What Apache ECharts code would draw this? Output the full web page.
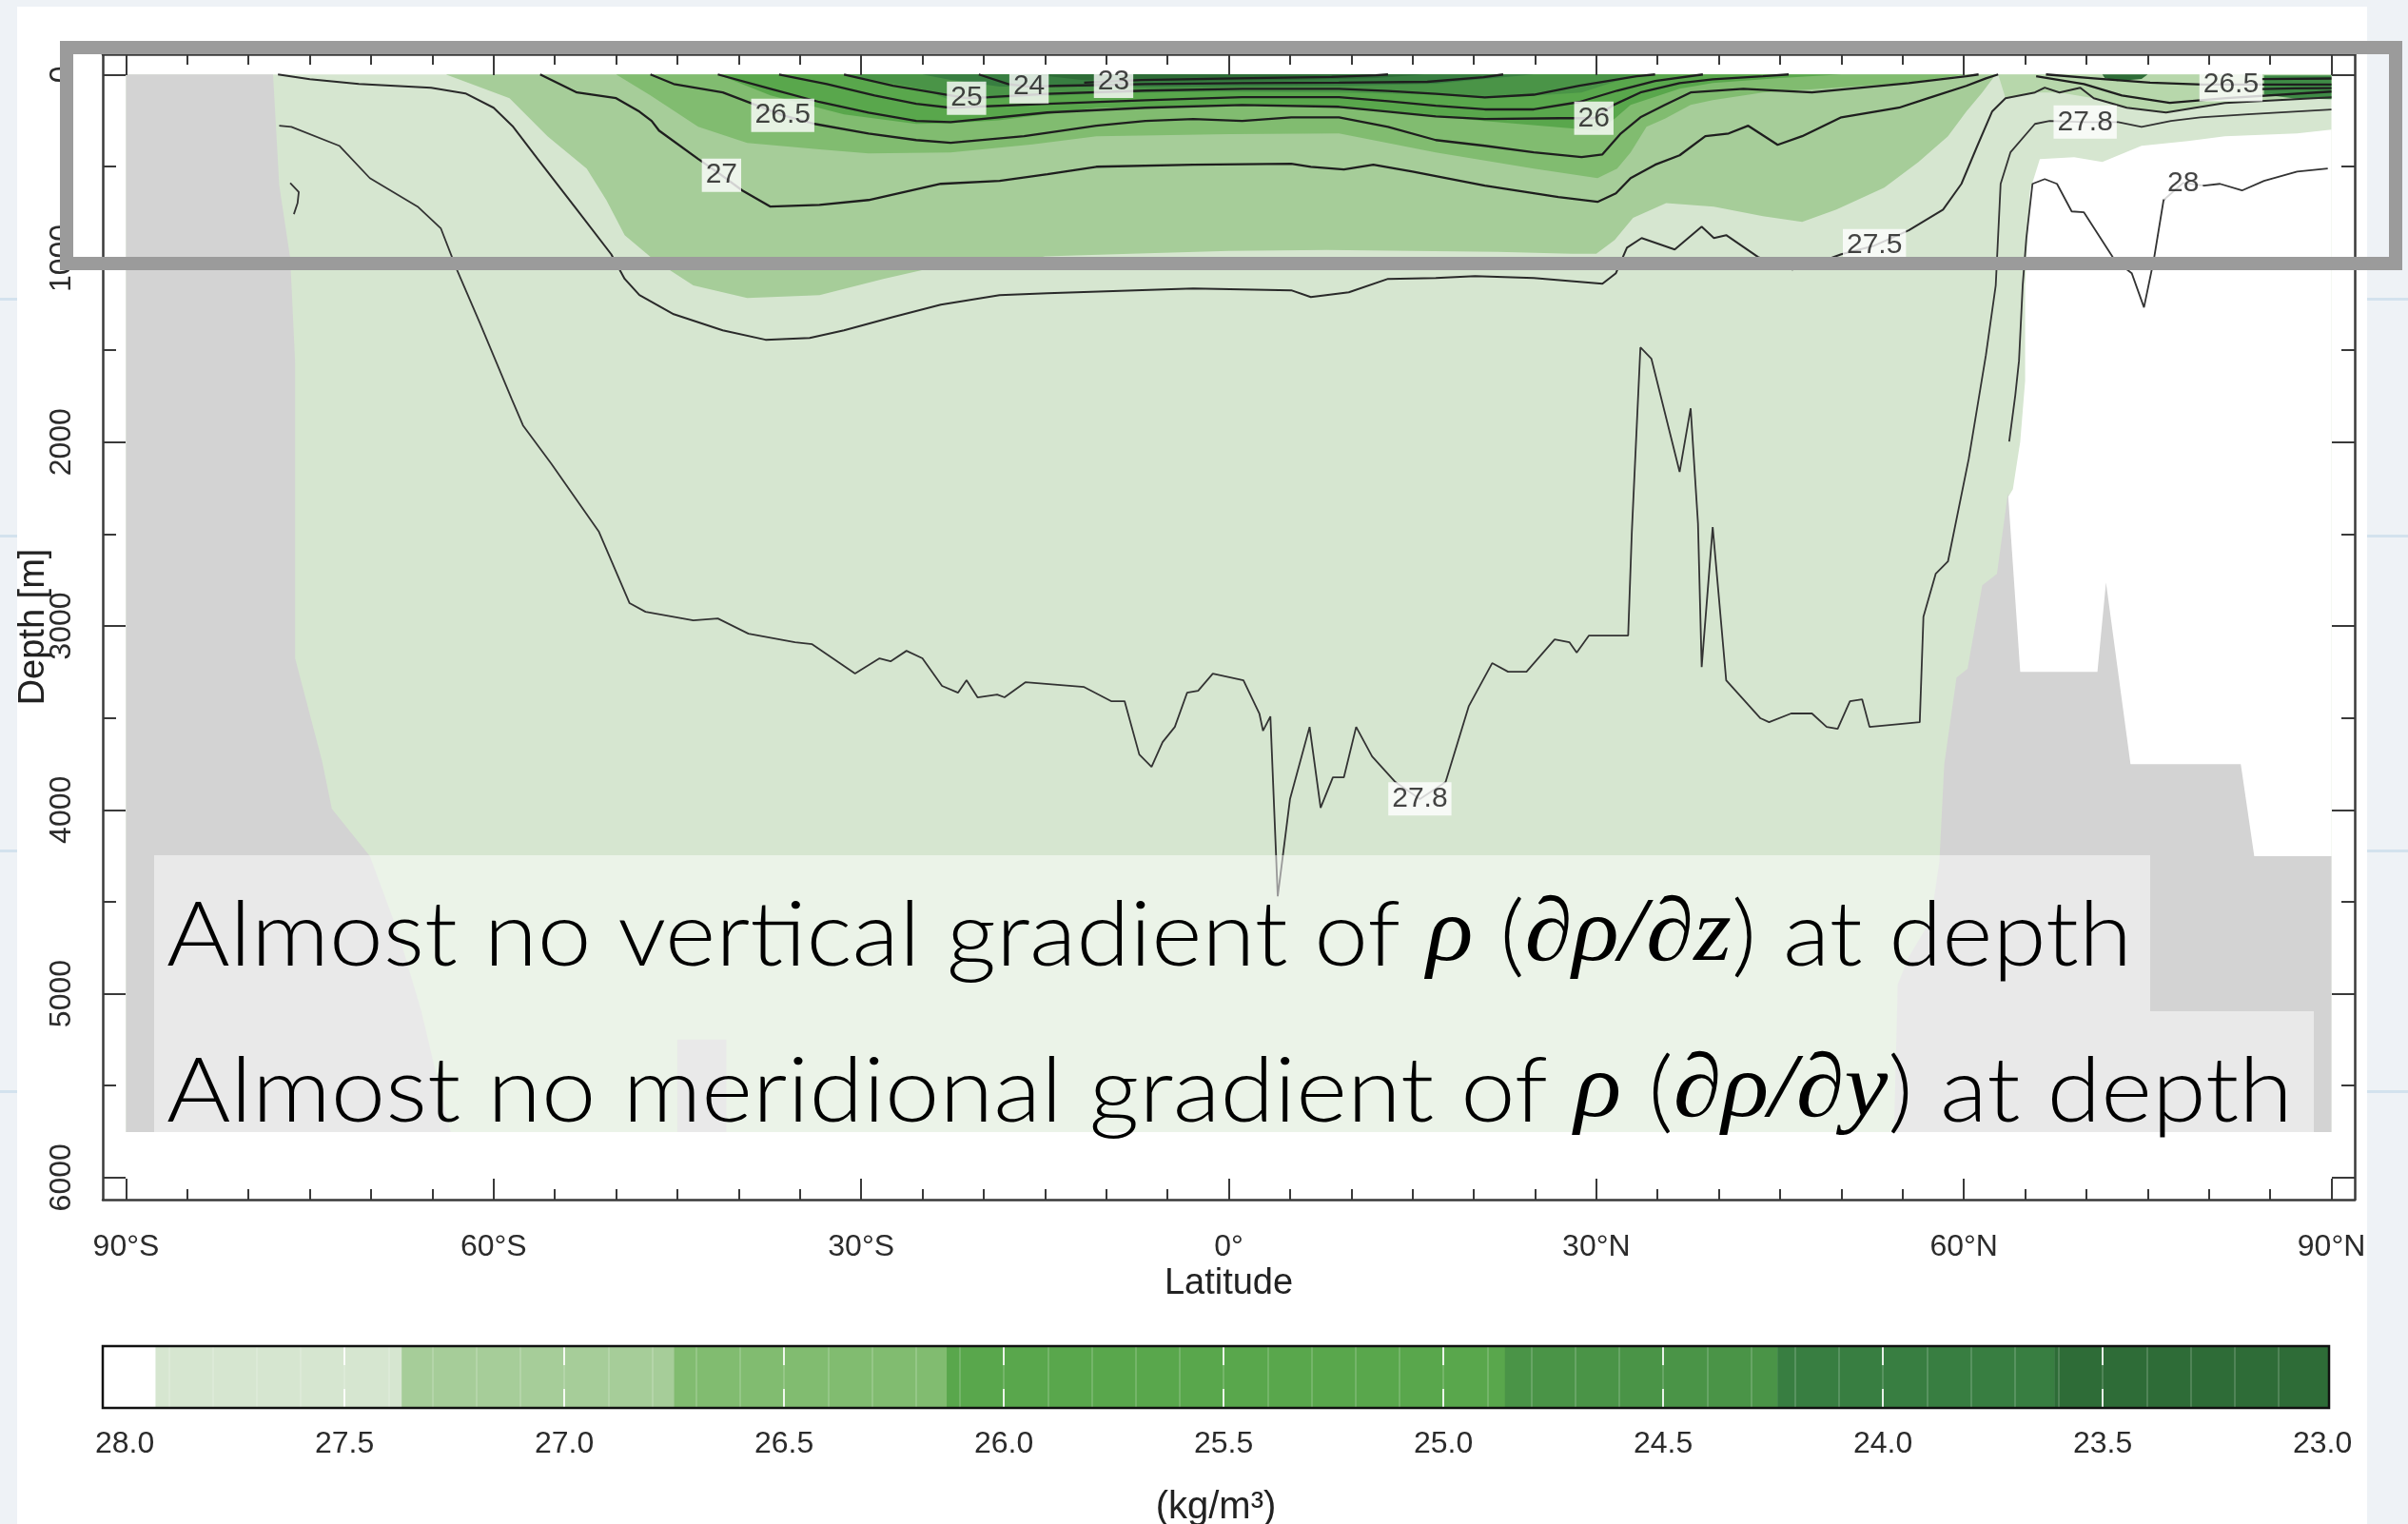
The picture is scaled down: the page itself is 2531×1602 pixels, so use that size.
<!DOCTYPE html>
<html lang="en">
<head>
<meta charset="UTF-8" />
<title>Zonal-mean potential density section</title>
<script src="https://cdn.jsdelivr.net/npm/echarts@6/dist/echarts.min.js"></script>
<style>
  html, body { margin: 0; padding: 0; background: #ffffff; }
  #chart { width: 2531px; height: 1602px; }
</style>
</head>
<body>
<div id="chart"></div>
<script>
// ---- axes and colour bar ----
const latTicks = [-90, -60, -30, 0, 30, 60, 90];
const latTickNames = ['90°S', '60°S', '30°S', '0°', '30°N', '60°N', '90°N'];
const depthTicks = [0, 1000, 2000, 3000, 4000, 5000, 6000];
const cbTicks = [28.0, 27.5, 27.0, 26.5, 26.0, 25.5, 25.0, 24.5, 24.0, 23.5, 23.0];
// colour bar boxes: edges in kg/m3 as drawn on the bar
const cbEdges = [28.05, 27.93, 27.37, 26.75, 26.13, 24.86, 24.24, 23.61, 22.985];
const cbColors = ['#ffffff', '#d6e6d0', '#a6cd99', '#81bc70', '#59a74c', '#4a9447', '#387e41', '#2e6c37'];

// ---- filled density classes, [latitude, depth m] ----
const oceanBase = [[-90, 0], [90, 0], [90, 5753], [-90, 5753]];
const whiteNorth = [[65.4, 631], [66.2, 461], [69.0, 450], [71.3, 476], [74.5, 388], [78.3, 362], [81.3, 336], [87.2, 321], [90, 300], [90, 5753], [63.6, 5753], [63.6, 2300], [64.0, 2256], [64.6, 1997], [65.0, 1666], [65.0, 1148]];
const bandA = [[-63.9, 0], [62.6, 0], [61.5, 98], [60.2, 202], [58.7, 336], [56.3, 476], [53.5, 616], [49.6, 735], [46.8, 802], [43.6, 771], [39.6, 719], [35.7, 700], [33, 780], [31.5, 900], [30, 975], [28, 975], [22, 965], [15, 960], [8, 955], [0, 960], [-8, 975], [-15, 990], [-18.8, 1040], [-24.7, 1060], [-28.2, 1112], [-33.4, 1200], [-39.3, 1216], [-43.7, 1148], [-46.9, 1009], [-49.3, 874], [-50.8, 683], [-52.4, 512], [-55.6, 336], [-58.7, 129]];
const bandB = [[-50.0, 0], [60.2, 0], [55.5, 45], [50, 70], [43.6, 98], [39.5, 140], [37.7, 166], [35.6, 240], [34.1, 284], [32.8, 424], [31.7, 512], [30.1, 564], [24.9, 512], [16.9, 424], [9.0, 321], [0, 325], [-10.8, 336], [-16, 380], [-22.7, 424], [-29.4, 430], [-33.4, 408], [-39.3, 372], [-43.3, 284], [-47.2, 114]];
const bandC = [[-41.7, 0], [50, 0], [45, 20], [39.5, 47], [36.8, 78], [32.8, 166], [31.5, 240], [30.1, 305], [20.9, 253], [13.0, 202], [5.1, 166], [-10.8, 181], [-18.8, 250], [-22.7, 265], [-25.5, 269], [-31.4, 217], [-37.4, 114]];
const bandD = [[-31.4, 0], [33.6, 0], [31, 50], [28.8, 98], [24.9, 115], [20.9, 129], [16.9, 110], [9, 98], [-2, 95], [-10.8, 105], [-18.8, 130], [-22.7, 140], [-25, 80]];
const bandE = [[-25, 0], [24.9, 0], [20, 30], [16.9, 50], [9, 62], [-6.8, 68], [-18.7, 66], [-22.7, 30]];
const bandF = [[-16, 0], [16, 0], [12, 20], [5, 30], [-5, 38], [-12, 30]];
const arcticLight = [[62.8, 0], [90, 0], [90, 124], [81.3, 155], [76.5, 207], [73.3, 181], [70.6, 129], [67.8, 98], [65.8, 98], [63.4, 129]];
const arcticDark = [[84.5, 5], [90, 5], [90, 135], [87, 130], [84.5, 110]];
const arcticBlob = [[71.3, 0], [75, 0], [74.5, 25], [72.5, 36], [71.5, 20]];

// ---- topography ----
const landSouth = [[-90, 0], [-78.0, 0], [-77.5, 600], [-76.6, 1000], [-76.2, 1562], [-76.2, 3176], [-74.0, 3735], [-73.2, 3994], [-70.1, 4252], [-67.8, 4666], [-65.9, 5096], [-64.3, 5546], [-63.5, 5753], [-90, 5753]];
const landNorth = [[90, 5753], [54.3, 5753], [54.6, 4950], [55.5, 4800], [57.3, 4600], [58.0, 4283], [58.4, 3751], [59.4, 3280], [60.3, 3233], [61.5, 2778], [62.7, 2716], [63.6, 2276], [64.6, 3249], [70.9, 3249], [71.6, 2763], [73.6, 3751], [82.6, 3751], [83.7, 4252], [90, 4252]];
const seamount = [[-45, 5753], [-45, 5250], [-41, 5250], [-41, 5753]];

// ---- contour lines ----
const c28 = [[63.7, 1997], [64.2, 1743], [64.5, 1557], [64.8, 1148], [65.1, 890], [65.6, 595], [66.6, 569], [67.6, 595], [68.8, 745], [69.8, 750], [71.3, 905], [72.3, 1009], [73.7, 1081], [74.7, 1267], [75.5, 1009], [76.3, 683], [77.9, 590], [79.6, 605], [80.9, 595], [82.7, 631], [84.5, 579], [87.2, 528], [89.7, 512]];
const c27_8 = [[-77.5, 279], [-76.5, 285], [-72.6, 388], [-70.1, 564], [-66.2, 719], [-64.3, 838], [-63.0, 1061], [-61.1, 1355], [-58.5, 1769], [-57.6, 1909], [-55.3, 2116], [-51.4, 2488], [-48.9, 2876], [-47.6, 2923], [-43.7, 2969], [-41.7, 2959], [-39.2, 3042], [-35.4, 3088], [-34.0, 3099], [-30.5, 3259], [-28.5, 3176], [-27.6, 3192], [-26.3, 3135], [-25.0, 3176], [-23.4, 3326], [-22.1, 3363], [-21.4, 3295], [-20.5, 3388], [-18.9, 3373], [-18.3, 3388], [-16.6, 3306], [-11.8, 3332], [-9.6, 3409], [-8.5, 3409], [-7.3, 3699], [-6.3, 3766], [-5.4, 3632], [-4.4, 3549], [-3.4, 3363], [-2.5, 3352], [-1.3, 3259], [1.2, 3295], [2.5, 3476], [2.8, 3570], [3.4, 3492], [4.0, 4470], [5.0, 3942], [6.6, 3549], [7.5, 3989], [8.5, 3823], [9.4, 3823], [10.4, 3549], [11.7, 3709], [13.6, 3849], [15.6, 3942], [17.7, 3849], [19.6, 3435], [21.5, 3202], [22.8, 3249], [24.3, 3249], [26.6, 3073], [27.8, 3088], [28.4, 3145], [29.4, 3052], [32.6, 3052], [32.9, 2488], [33.6, 1485], [34.5, 1547], [36.8, 2162], [37.7, 1816], [38.3, 2442], [38.6, 3223], [39.5, 2462], [40.6, 3295], [43.4, 3502], [44.1, 3523], [45.9, 3476], [47.6, 3476], [48.8, 3549], [49.7, 3559], [50.7, 3409], [51.7, 3399], [52.3, 3549], [56.4, 3523], [56.7, 2949], [57.7, 2716], [58.7, 2649], [60.4, 2090], [61.8, 1526], [62.6, 1148], [63.0, 595], [63.8, 424], [65.8, 269], [67.0, 253], [69.9, 259], [72.6, 259], [74.5, 285], [76.9, 253], [79.3, 233], [83.2, 217], [90, 191]];
const c27_5 = [[-77.6, 0], [-75.0, 26], [-71.0, 52], [-65.1, 72], [-62.3, 103], [-60.0, 181], [-58.4, 285], [-56.4, 460], [-53.2, 735], [-50.4, 978], [-49.3, 1112], [-48.1, 1200], [-45.3, 1304], [-41.3, 1392], [-37.8, 1443], [-34.2, 1433], [-31.4, 1392], [-27.4, 1319], [-23.5, 1252], [-18.7, 1200], [-14.8, 1190], [-2.9, 1164], [5.1, 1174], [6.7, 1211], [9.8, 1185], [13.0, 1112], [16.9, 1107], [20.1, 1097], [24.9, 1107], [30.5, 1138], [31.6, 1081], [32.5, 942], [33.7, 890], [36.4, 952], [38.6, 828], [39.6, 890], [40.6, 874], [43.2, 993], [46.0, 1061], [47.2, 1045], [50.0, 978], [52.7, 931], [55.5, 848], [58.3, 735], [59.8, 595], [61.1, 388], [62.3, 202], [63.4, 129], [65.8, 98], [66.6, 72], [67.8, 98], [69.5, 72], [70.6, 129], [73.3, 181], [76.5, 207], [81.3, 155], [90, 124]];
const c27 = [[-56.2, 0], [-53.2, 98], [-50.0, 129], [-48.1, 202], [-47.1, 253], [-46.5, 305], [-43.3, 460], [-41.4, 548], [-39.7, 631], [-37.4, 719], [-33.4, 709], [-29.4, 683], [-23.5, 595], [-18.7, 579], [-14.8, 543], [-10.8, 502], [-2.9, 491], [5.1, 486], [6.7, 502], [9.4, 517], [11.8, 491], [15.0, 528], [20.9, 605], [26.9, 667], [30.1, 693], [31.6, 647], [32.8, 564], [34.8, 491], [36.8, 440], [38.9, 336], [40.8, 321], [42.4, 279], [44.8, 383], [46.8, 336], [50.0, 233], [54.7, 181], [57.1, 129], [60.2, 62], [61.8, 21], [62.8, 0]];
const c27North = [[65.9, 10], [69.8, 52], [72.9, 114], [76.8, 155], [81.4, 129], [90, 93]];
const c26_5 = [[-47.2, 0], [-45.3, 52], [-41.3, 98], [-36.4, 222], [-33.8, 269], [-29.4, 321], [-25.5, 357], [-22.7, 372], [-16.7, 336], [-10.8, 279], [-6.8, 253], [-2.9, 243], [1.1, 253], [5.1, 233], [9.0, 233], [13.0, 285], [16.9, 357], [20.9, 388], [24.9, 424], [28.8, 450], [30.5, 435], [32.0, 321], [33.6, 233], [35.6, 166], [37.7, 98], [42.0, 78], [47.6, 98], [55.5, 47], [60.2, 10], [61.2, 0]];
const c26_5North = [[66.7, 0], [70.6, 21], [75.2, 45], [79.5, 55], [81.8, 55], [84.2, 55], [90, 55]];
const c26 = [[-41.7, 0], [-37.4, 78], [-33.4, 150], [-29.4, 207], [-25.5, 253], [-22.7, 259], [-14.8, 207], [-6.8, 181], [1.1, 166], [9.0, 176], [13.0, 202], [16.9, 228], [20.9, 243], [27.0, 238], [29.8, 238], [31.4, 166], [33.6, 98], [36.8, 47], [39.5, 26], [43.6, 10], [45.7, 0]];
const c26North = [[84.3, 80], [87, 76], [90, 74]];
const c25_5 = [[-36.7, 0], [-32.8, 52], [-28.9, 114], [-25.5, 160], [-22.7, 181], [-14.8, 160], [-6.8, 140], [1.1, 124], [9.0, 124], [13.0, 145], [16.9, 170], [20.9, 190], [24.9, 190], [28.6, 150], [31.7, 88], [34.8, 36], [38.7, 0]];
const c25 = [[-31.4, 0], [-27.4, 62], [-21.4, 129], [-19.6, 124], [-14.8, 105], [-6.8, 88], [1.1, 78], [9.0, 78], [13.0, 90], [16.9, 105], [20.9, 125], [24.9, 110], [28.6, 62], [33.3, 10], [34.8, 0]];
const c25North = [[84.3, 25], [90, 22]];
const c24 = [[-20.4, 0], [-18.0, 52], [-16.3, 67], [-14.1, 62], [-6.8, 52], [1.1, 47], [9.0, 45], [16.2, 40], [20.8, 15], [22.4, 0]];
const c23 = [[-11.8, 45], [-7.1, 30], [0.6, 21], [8.4, 14], [12, 5], [13, 0]];
const cHook = [[-76.6, 590], [-75.9, 640], [-76.0, 700], [-76.3, 760]];

// ---- contour labels ----
const labelText = ['27', '26.5', '25', '24', '23', '26', '27.5', '27.8', '27.8', '28', '26.5'];
const labelPos = [[-41.4, 548], [-36.4, 222], [-21.4, 129], [-16.3, 67], [-9.4, 38], [29.8, 238], [52.7, 931], [15.6, 3940], [69.9, 259], [77.9, 590], [81.8, 55]];

// ---- slide text ----
const overlayLine1 = [['a', 'Almost no vertical gradient of '], ['m', 'ρ'], ['a', ' ('], ['m', '∂ρ/∂z'], ['a', ') at depth']];
const overlayLine2 = [['a', 'Almost no meridional gradient of '], ['m', 'ρ'], ['a', ' ('], ['m', '∂ρ/∂y'], ['a', ') at depth']];

function measure(txt, font) {
  const ctx = document.createElement('canvas').getContext('2d');
  ctx.font = font;
  return ctx.measureText(txt).width;
}

const tickSize = 32;
const tickStyle = { fontFamily: 'Liberation Sans', fontSize: tickSize, color: '#2b2b2b' };
const nameStyle = { fontFamily: 'Liberation Sans', fontSize: 38, color: '#222' };
const unitStyle = { fontFamily: 'Liberation Sans', fontSize: 40, color: '#222' };

const ovSize = 95;
const ovFontA = '300 ' + ovSize + 'px Lato';
const ovFontM = 'italic 400 ' + ovSize + 'px "Liberation Serif"';
function richWidth(parts) {
  return parts.reduce((s, p) => s + measure(p[1], p[0] === 'm' ? ovFontM : ovFontA), 0);
}
function richString(parts) {
  return parts.map(p => '{' + p[0] + '|' + p[1] + '}').join('');
}
const ovRich = {
  a: { fontFamily: 'Lato', fontWeight: 300, fontSize: ovSize, fill: '#000' },
  m: { fontFamily: 'Liberation Serif', fontStyle: 'italic', fontWeight: 'normal', fontSize: ovSize, fill: '#000' }
};

function polygon(name, pts, color, z) {
  return {
    type: 'custom', name: name, data: pts, z: z, silent: true, clip: true,
    encode: { x: 0, y: 1 },
    renderItem: function (params, api) {
      if (params.dataIndex !== 0) return null;
      return { type: 'polygon', shape: { points: pts.map(p => api.coord(p)) }, style: { fill: color } };
    }
  };
}

function contour(name, pts, width, color) {
  return {
    type: 'line', name: name, data: pts, symbol: 'none', showSymbol: false, silent: true,
    z: 6, clip: true, lineStyle: { color: color || '#1e1e1e', width: width || 2.3 }
  };
}

function range(a, b, step) {
  const out = [];
  for (let v = a; v <= b + 1e-9; v += step) out.push(Math.round(v * 100) / 100);
  return out;
}
const latMinor = range(-90, 90, 5);
const depthMinor = range(500, 5500, 1000);
const cbInner = cbTicks.slice(1, -1);
const cbMinor = range(23.1, 27.9, 0.1);

const axisColor = '#3a3a3a';
const mainX = { gridIndex: 0, type: 'value', min: -91.9, max: 91.9, splitLine: { show: false }, z: 8 };
const mainY = { gridIndex: 0, type: 'value', inverse: true, min: -110, max: 6120, splitLine: { show: false }, z: 8 };

const option = {
  backgroundColor: '#ffffff',
  animation: false,
  grid: [
    { left: 108, top: 57, width: 2367, height: 1204, outerBoundsMode: 'none', containLabel: false },
    { left: 108, top: 1415, width: 2340, height: 65, outerBoundsMode: 'none', containLabel: false }
  ],
  xAxis: [
    Object.assign({}, mainX, {
      position: 'bottom',
      axisLine: { show: true, onZero: false, lineStyle: { color: axisColor, width: 2.5 } },
      axisTick: { show: true, inside: true, length: 22, customValues: latTicks, lineStyle: { color: axisColor, width: 2 } },
      axisLabel: Object.assign({ show: true, customValues: latTicks, margin: 1311 - 1261 - tickSize / 2,
        formatter: v => latTickNames[latTicks.indexOf(Math.round(v))] }, tickStyle),
      name: 'Latitude', nameLocation: 'middle', nameGap: 1350 - 1261 - 19, nameMoveOverlap: false,
      nameTextStyle: nameStyle
    }),
    Object.assign({}, mainX, {
      position: 'bottom', axisLine: { show: false, onZero: false },
      axisTick: { show: true, inside: true, length: 11, customValues: latMinor, lineStyle: { color: axisColor, width: 2 } },
      axisLabel: { show: false }
    }),
    Object.assign({}, mainX, {
      position: 'top',
      axisLine: { show: true, onZero: false, lineStyle: { color: axisColor, width: 2.5 } },
      axisTick: { show: true, inside: true, length: 22, customValues: latTicks, lineStyle: { color: axisColor, width: 2 } },
      axisLabel: { show: false }
    }),
    Object.assign({}, mainX, {
      position: 'top', axisLine: { show: false, onZero: false },
      axisTick: { show: true, inside: true, length: 11, customValues: latMinor, lineStyle: { color: axisColor, width: 2 } },
      axisLabel: { show: false }
    }),
    {
      gridIndex: 1, type: 'value', inverse: true, min: 22.985, max: 28.05, position: 'bottom', z: 10,
      axisLine: { show: false, onZero: false }, splitLine: { show: false },
      axisTick: { show: true, inside: true, length: 20, customValues: cbInner, lineStyle: { color: 'rgba(255,255,255,0.85)', width: 2 } },
      axisLabel: Object.assign({ show: true, customValues: cbTicks, margin: 22, formatter: v => v.toFixed(1) }, tickStyle),
      name: '(kg/m³)', nameLocation: 'middle', nameGap: 85, nameMoveOverlap: false,
      nameTextStyle: unitStyle
    },
    {
      gridIndex: 1, type: 'value', inverse: true, min: 22.985, max: 28.05, position: 'top', z: 10,
      axisLine: { show: false, onZero: false }, splitLine: { show: false },
      axisTick: { show: true, inside: true, length: 20, customValues: cbInner, lineStyle: { color: 'rgba(255,255,255,0.85)', width: 2 } },
      axisLabel: { show: false }
    },
    {
      gridIndex: 1, type: 'value', inverse: true, min: 22.985, max: 28.05, position: 'bottom', z: 9,
      axisLine: { show: false, onZero: false }, splitLine: { show: false },
      axisTick: { show: true, inside: true, length: 65, customValues: cbMinor, lineStyle: { color: 'rgba(255,255,255,0.22)', width: 1.5 } },
      axisLabel: { show: false }
    }
  ],
  yAxis: [
    Object.assign({}, mainY, {
      position: 'left',
      axisLine: { show: true, onZero: false, lineStyle: { color: axisColor, width: 2.5 } },
      axisTick: { show: true, inside: true, length: 24, customValues: depthTicks, lineStyle: { color: axisColor, width: 2 } },
      axisLabel: Object.assign({ show: true, customValues: depthTicks, rotate: 90, margin: 108 - 65 - tickSize / 2,
        formatter: v => String(Math.round(v)) }, tickStyle),
      name: 'Depth [m]', nameLocation: 'middle', nameRotate: 90, nameGap: 108 - 36 - 19, nameMoveOverlap: false,
      nameTextStyle: nameStyle
    }),
    Object.assign({}, mainY, {
      position: 'left', axisLine: { show: false, onZero: false },
      axisTick: { show: true, inside: true, length: 14, customValues: depthMinor, lineStyle: { color: axisColor, width: 2 } },
      axisLabel: { show: false }
    }),
    Object.assign({}, mainY, {
      position: 'right',
      axisLine: { show: true, onZero: false, lineStyle: { color: axisColor, width: 2.5 } },
      axisTick: { show: true, inside: true, length: 24, customValues: depthTicks, lineStyle: { color: axisColor, width: 2 } },
      axisLabel: { show: false }
    }),
    Object.assign({}, mainY, {
      position: 'right', axisLine: { show: false, onZero: false },
      axisTick: { show: true, inside: true, length: 14, customValues: depthMinor, lineStyle: { color: axisColor, width: 2 } },
      axisLabel: { show: false }
    }),
    { gridIndex: 1, type: 'value', min: 0, max: 1, show: false }
  ],
  series: [
    polygon('base', oceanBase, cbColors[1], 1),
    polygon('dense', whiteNorth, cbColors[0], 1),
    polygon('arcticLight', arcticLight, '#b7d7ab', 1),
    polygon('bandA', bandA, cbColors[2], 2),
    polygon('bandB', bandB, cbColors[3], 2),
    polygon('bandC', bandC, cbColors[4], 2),
    polygon('bandD', bandD, cbColors[5], 2),
    polygon('bandE', bandE, cbColors[6], 2),
    polygon('bandF', bandF, cbColors[7], 2),
    polygon('arcticDark', arcticDark, '#3f8b46', 2),
    polygon('arcticBlob', arcticBlob, cbColors[7], 2),
    polygon('landS', landSouth, '#d3d3d3', 3),
    polygon('landN', landNorth, '#d3d3d3', 3),
    polygon('seamount', seamount, '#d3d3d3', 3),
    contour('28', c28, 1.8, '#333'),
    contour('27.8', c27_8, 1.8, '#333'),
    contour('27.5', c27_5, 2.0, '#2a2a2a'),
    contour('27', c27),
    contour('27N', c27North),
    contour('26.5', c26_5),
    contour('26.5N', c26_5North),
    contour('26', c26),
    contour('26N', c26North),
    contour('25.5', c25_5),
    contour('25', c25),
    contour('25N', c25North),
    contour('24', c24),
    contour('23', c23),
    contour('hook', cHook, 1.8, '#333'),
    {
      type: 'scatter', name: 'labels', z: 9, silent: true, symbol: 'rect', symbolSize: 1,
      itemStyle: { color: 'rgba(0,0,0,0)' },
      data: labelPos.map((p, i) => ({ name: labelText[i], value: p })),
      label: {
        show: true, position: 'inside', formatter: '{b}', fontFamily: 'Liberation Sans', fontSize: 30,
        color: '#151515', backgroundColor: '#ffffff', padding: [4, 4, 1, 4]
      }
    },
    {
      type: 'custom', name: 'colorbar', xAxisIndex: 4, yAxisIndex: 4, silent: true, z: 2,
      data: cbColors.map((c, i) => [cbEdges[i], cbEdges[i + 1], i]),
      encode: { x: [0, 1] },
      renderItem: function (params, api) {
        const a = api.coord([api.value(0), 0]);
        const b = api.coord([api.value(1), 1]);
        return {
          type: 'rect',
          shape: { x: Math.min(a[0], b[0]), y: Math.min(a[1], b[1]), width: Math.abs(b[0] - a[0]) + 0.5, height: Math.abs(b[1] - a[1]) },
          style: { fill: cbColors[api.value(2)] }
        };
      }
    },
    {
      type: 'custom', name: 'colorbarFrame', xAxisIndex: 4, yAxisIndex: 4, silent: true, z: 12,
      data: [[cbEdges[0], cbEdges[cbEdges.length - 1]]],
      encode: { x: [0, 1] },
      renderItem: function (params, api) {
        const a = api.coord([api.value(0), 0]);
        const b = api.coord([api.value(1), 1]);
        return {
          type: 'rect',
          shape: { x: Math.min(a[0], b[0]), y: Math.min(a[1], b[1]), width: Math.abs(b[0] - a[0]), height: Math.abs(b[1] - a[1]) },
          style: { fill: 'none', stroke: '#111', lineWidth: 2.5 }
        };
      }
    }
  ],
  graphic: {
    elements: [
      { type: 'rect', silent: true, z: 40, shape: { x: 0, y: 0, width: 2531, height: 7 }, style: { fill: '#eef2f6' } },
      { type: 'rect', silent: true, z: 40, shape: { x: 0, y: 0, width: 18, height: 1602 }, style: { fill: '#eef2f6' } },
      { type: 'rect', silent: true, z: 40, shape: { x: 2488, y: 0, width: 43, height: 1602 }, style: { fill: '#eef2f6' } },
      { type: 'rect', silent: true, z: 41, shape: { x: 2488, y: 313, width: 43, height: 3 }, style: { fill: '#d3e2ee' } },
      { type: 'rect', silent: true, z: 41, shape: { x: 2488, y: 562, width: 43, height: 3 }, style: { fill: '#d3e2ee' } },
      { type: 'rect', silent: true, z: 41, shape: { x: 2488, y: 893, width: 43, height: 3 }, style: { fill: '#d3e2ee' } },
      { type: 'rect', silent: true, z: 41, shape: { x: 2488, y: 1146, width: 43, height: 3 }, style: { fill: '#d3e2ee' } },
      { type: 'rect', silent: true, z: 41, shape: { x: 0, y: 313, width: 18, height: 3 }, style: { fill: '#d3e2ee' } },
      { type: 'rect', silent: true, z: 41, shape: { x: 0, y: 562, width: 18, height: 3 }, style: { fill: '#d3e2ee' } },
      { type: 'rect', silent: true, z: 41, shape: { x: 0, y: 893, width: 18, height: 3 }, style: { fill: '#d3e2ee' } },
      { type: 'rect', silent: true, z: 41, shape: { x: 0, y: 1146, width: 18, height: 3 }, style: { fill: '#d3e2ee' } },
      { type: 'rect', silent: true, z: 50, shape: { x: 162, y: 899, width: 2098, height: 164 }, style: { fill: 'rgba(255,255,255,0.5)' } },
      { type: 'rect', silent: true, z: 50, shape: { x: 162, y: 1063, width: 2270, height: 127 }, style: { fill: 'rgba(255,255,255,0.5)' } },
      {
        type: 'text', silent: true, z: 51, x: 175, y: 984, scaleX: 2066 / richWidth(overlayLine1),
        style: { text: richString(overlayLine1), rich: ovRich, fill: '#000', verticalAlign: 'middle', align: 'left' }
      },
      {
        type: 'text', silent: true, z: 51, x: 175, y: 1148, scaleX: 2235 / richWidth(overlayLine2),
        style: { text: richString(overlayLine2), rich: ovRich, fill: '#000', verticalAlign: 'middle', align: 'left' }
      },
      { type: 'rect', silent: true, z: 60, shape: { x: 70, y: 50, width: 2448, height: 227 }, style: { fill: 'none', stroke: '#9b9b9b', lineWidth: 14 } }
    ]
  }
};

const chart = echarts.init(document.getElementById('chart'));
chart.setOption(option);
</script>
</body>
</html>
